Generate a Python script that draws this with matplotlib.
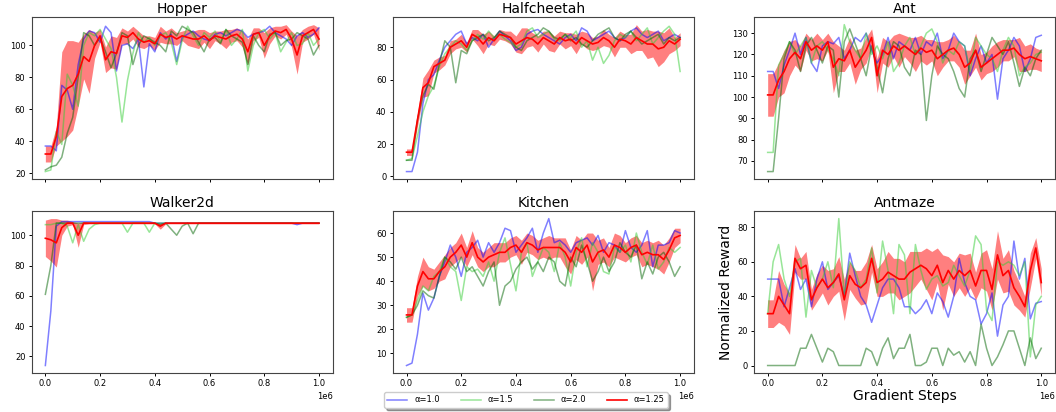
import numpy as np
import matplotlib.pyplot as plt

# passos de treino (0 a 1e6)
steps = np.arange(0, 1000001, 20000)

titles = ["Hopper", "Halfcheetah", "Ant", "Walker2d", "Kitchen", "Antmaze"]
labels = ["α=1.0", "α=1.5", "α=2.0", "α=1.25"]

# hopper
hopper_a10 = [37, 37, 34, 75, 72, 60, 88, 104, 109, 108, 102, 112, 108, 84, 100, 101, 98, 104, 74, 101,
              96, 108, 104, 107, 90, 105, 107, 109, 106, 104, 103, 107, 108, 106, 108, 110, 109, 105, 107, 108,
              109, 112, 108, 106, 104, 100, 106, 108, 105, 107, 111]
hopper_a15 = [21, 22, 46, 38, 82, 75, 62, 100, 108, 106, 110, 104, 98, 80, 52, 78, 95, 108, 102, 105,
              100, 106, 108, 102, 88, 103, 112, 106, 100, 108, 105, 109, 102, 110, 100, 104, 110, 84, 100, 108,
              110, 104, 108, 96, 102, 108, 100, 101, 108, 100, 104]
hopper_a20 = [22, 24, 25, 30, 45, 55, 80, 108, 106, 100, 105, 96, 86, 95, 108, 106, 88, 100, 106, 104,
              102, 100, 96, 109, 106, 112, 110, 108, 102, 96, 104, 105, 101, 110, 106, 104, 102, 88, 106, 100,
              96, 107, 108, 100, 103, 104, 108, 106, 104, 94, 100]
hopper_a125 = [32, 32, 43, 68, 73, 75, 82, 93, 90, 100, 106, 91, 96, 95, 106, 105, 108, 104, 102, 103,
               101, 107, 105, 106, 104, 106, 105, 104, 104, 106, 103, 106, 105, 104, 106, 107, 104, 96, 107, 108,
               100, 106, 109, 108, 110, 104, 94, 106, 108, 110, 104]
hopper_std = [5, 5, 6, 28, 30, 28, 20, 14, 20, 8, 4, 8, 10, 10, 5, 4, 4, 5, 4, 3,
              4, 5, 4, 5, 4, 3, 5, 5, 6, 4, 5, 3, 4, 6, 4, 4, 5, 8, 4, 3,
              8, 5, 3, 4, 3, 5, 12, 4, 4, 3, 7]

# halfcheetah
cheetah_a10 = [3, 3, 15, 45, 60, 63, 72, 80, 84, 88, 90, 82, 86, 84, 88, 80, 85, 90, 87, 84,
               78, 80, 88, 90, 91, 88, 86, 84, 82, 86, 88, 84, 92, 90, 84, 86, 88, 90, 86, 84,
               86, 90, 92, 88, 86, 88, 90, 84, 86, 88, 86]
cheetah_a15 = [10, 11, 25, 40, 50, 56, 68, 76, 80, 84, 82, 78, 84, 88, 85, 90, 86, 88, 85, 83,
               80, 82, 90, 92, 86, 88, 90, 85, 84, 88, 86, 90, 80, 84, 72, 80, 70, 75, 84, 88,
               86, 90, 84, 88, 92, 82, 86, 90, 93, 88, 65]
cheetah_a20 = [10, 10, 35, 50, 57, 54, 70, 84, 80, 58, 78, 76, 84, 86, 88, 84, 86, 90, 88, 86,
               80, 78, 84, 86, 88, 92, 90, 86, 85, 88, 84, 86, 82, 80, 84, 88, 90, 92, 86, 84,
               88, 90, 86, 82, 84, 86, 88, 82, 86, 84, 86]
cheetah_a125 = [15, 15, 35, 55, 58, 68, 70, 72, 80, 82, 84, 80, 88, 86, 82, 86, 84, 88, 87, 86,
                82, 84, 86, 85, 82, 86, 84, 82, 86, 84, 85, 82, 86, 84, 82, 83, 86, 84, 80, 85,
                84, 82, 86, 84, 82, 82, 79, 80, 84, 82, 85]
cheetah_std = [2, 2, 4, 6, 8, 4, 4, 3, 4, 3, 4, 3, 3, 5, 6, 4, 3, 3, 3, 4,
               5, 8, 6, 4, 5, 4, 6, 5, 4, 5, 4, 6, 4, 5, 4, 4, 5, 4, 6, 5,
               4, 6, 8, 6, 9, 8, 11, 9, 8, 4, 4]

# ant
ant_a10 = [112, 112, 104, 115, 122, 130, 120, 128, 116, 112, 124, 126, 125, 128, 118, 122, 128, 126, 130, 122,
           116, 120, 128, 118, 126, 124, 122, 128, 120, 126, 124, 130, 118, 122, 130, 126, 124, 110, 118, 124,
           116, 120, 99, 118, 122, 128, 124, 112, 118, 128, 129]
ant_a15 = [74, 74, 115, 120, 126, 120, 124, 128, 116, 124, 126, 122, 118, 110, 134, 126, 122, 118, 130, 120,
           124, 118, 126, 112, 116, 124, 128, 120, 124, 130, 132, 126, 116, 122, 120, 126, 124, 112, 128, 124,
           120, 118, 112, 122, 128, 124, 110, 114, 116, 120, 121]
ant_a20 = [65, 65, 90, 118, 126, 122, 112, 124, 128, 122, 116, 124, 122, 100, 126, 132, 125, 118, 110, 124,
           114, 102, 118, 126, 124, 114, 110, 122, 120, 89, 110, 124, 120, 118, 112, 104, 100, 118, 122, 112,
           120, 128, 124, 120, 126, 116, 105, 114, 110, 118, 122]
ant_a125 = [101, 101, 108, 112, 118, 121, 118, 126, 122, 124, 122, 126, 114, 118, 117, 122, 114, 118, 122, 128,
            110, 122, 120, 124, 122, 124, 122, 120, 123, 121, 122, 118, 120, 122, 123, 120, 114, 116, 122, 114,
            116, 118, 120, 122, 122, 123, 120, 118, 119, 118, 117]
ant_std = [10, 10, 8, 10, 8, 6, 6, 4, 5, 6, 5, 4, 12, 6, 5, 6, 8, 5, 6, 4,
           8, 6, 6, 5, 8, 5, 6, 8, 6, 6, 5, 8, 6, 5, 6, 6, 8, 6, 8, 6,
           5, 6, 6, 5, 5, 4, 8, 6, 6, 5, 5]

# walker2d
walker_a10 = [14, 50, 106, 109, 109, 109, 109, 109, 109, 109, 109, 109, 109, 109, 109, 109, 109, 109, 109, 109,
              108, 108, 108, 108, 108, 108, 108, 108, 108, 108, 108, 108, 108, 108, 108, 108, 108, 108, 108, 108,
              108, 108, 108, 108, 108, 108, 107, 108, 108, 108, 108]
walker_a15 = [107, 107, 108, 108, 106, 95, 107, 96, 104, 107, 108, 108, 108, 108, 108, 102, 108, 108, 108, 102,
              108, 108, 108, 108, 108, 108, 108, 108, 108, 108, 108, 108, 108, 108, 108, 108, 108, 108, 108, 108,
              108, 108, 108, 108, 108, 108, 108, 108, 108, 108, 108]
walker_a20 = [61, 80, 108, 108, 108, 108, 108, 108, 108, 108, 108, 108, 108, 108, 108, 108, 108, 108, 108, 108,
              108, 107, 108, 104, 100, 106, 108, 101, 108, 108, 108, 108, 108, 108, 108, 108, 108, 108, 108, 108,
              108, 108, 108, 108, 108, 108, 108, 108, 108, 108, 108]
walker_a125 = [98, 97, 95, 105, 108, 108, 100, 108, 108, 108, 108, 108, 108, 108, 108, 108, 108, 108, 108, 108,
               108, 106, 108, 108, 108, 108, 108, 108, 108, 108, 108, 108, 108, 108, 108, 108, 108, 108, 108, 108,
               108, 108, 108, 108, 108, 108, 108, 108, 108, 108, 108]
walker_std = [12, 14, 16, 5, 2, 1, 8, 1, 0.5, 0.5, 0.5, 0.5, 0.5, 0.5, 0.5, 0.5, 0.5, 0.5, 0.5, 0.5,
              0.5, 2, 0.5, 0.5, 0.5, 0.5, 0.5, 0.5, 0.5, 0.5, 0.5, 0.5, 0.5, 0.5, 0.5, 0.5, 0.5, 0.5, 0.5, 0.5,
              0.5, 0.5, 0.5, 0.5, 0.5, 0.5, 0.5, 0.5, 0.5, 0.5, 0.5]

# kitchen
kitchen_a10 = [5, 6, 18, 35, 28, 33, 42, 48, 55, 50, 42, 52, 54, 57, 50, 56, 52, 56, 62, 61,
               52, 55, 58, 62, 52, 60, 66, 56, 57, 55, 52, 56, 57, 58, 55, 59, 52, 56, 55, 52,
               61, 54, 52, 55, 61, 46, 55, 55, 56, 61, 60]
kitchen_a15 = [25, 26, 32, 38, 36, 42, 44, 50, 46, 44, 32, 46, 44, 45, 42, 48, 40, 52, 58, 47,
               36, 52, 56, 42, 48, 54, 52, 44, 56, 50, 38, 52, 58, 46, 56, 52, 44, 43, 54, 52,
               55, 48, 60, 52, 47, 55, 45, 48, 54, 52, 54]
kitchen_a20 = [25, 26, 30, 36, 34, 33, 42, 50, 48, 45, 50, 44, 46, 42, 38, 44, 48, 30, 38, 40,
               45, 48, 50, 45, 48, 44, 50, 48, 40, 38, 50, 46, 55, 48, 40, 44, 50, 44, 48, 56,
               52, 50, 55, 41, 48, 43, 50, 52, 48, 42, 46]
kitchen_a125 = [26, 26, 38, 44, 41, 41, 44, 46, 50, 52, 55, 50, 56, 50, 48, 50, 51, 52, 52, 54,
                55, 52, 56, 55, 53, 54, 54, 54, 54, 52, 48, 54, 52, 55, 48, 52, 53, 50, 55, 54,
                52, 54, 55, 51, 52, 51, 51, 49, 53, 58, 59]
kitchen_std = [3, 3, 4, 6, 5, 4, 4, 5, 4, 4, 5, 4, 5, 4, 4, 4, 5, 4, 4, 4,
               4, 5, 4, 4, 4, 4, 5, 4, 4, 6, 5, 5, 5, 5, 12, 5, 5, 4, 5, 5,
               4, 4, 4, 5, 5, 5, 6, 6, 5, 4, 3]

# antmaze
antmaze_a10 = [50, 50, 50, 34, 45, 56, 44, 50, 34, 50, 60, 44, 48, 52, 40, 65, 52, 40, 35, 25,
               35, 45, 50, 50, 45, 34, 34, 30, 33, 38, 30, 42, 37, 28, 40, 62, 48, 40, 38, 24,
               30, 42, 17, 35, 40, 72, 50, 62, 27, 36, 37]
antmaze_a15 = [30, 60, 70, 50, 40, 60, 62, 28, 55, 45, 50, 60, 45, 85, 40, 60, 55, 45, 50, 68,
               42, 72, 55, 30, 70, 64, 30, 70, 55, 44, 50, 52, 46, 48, 58, 52, 46, 55, 75, 70,
               32, 26, 60, 58, 60, 58, 52, 60, 5, 35, 40]
antmaze_a20 = [0, 0, 0, 0, 0, 0, 10, 10, 18, 10, 2, 10, 8, 0, 0, 0, 0, 0, 10, 8,
               0, 10, 16, 4, 10, 10, 18, 0, 0, 2, 10, 10, 0, 10, 6, 8, 2, 8, 0, 24,
               10, 0, 5, 12, 20, 20, 10, 0, 16, 4, 10]
antmaze_a125 = [30, 30, 40, 35, 30, 62, 56, 58, 38, 45, 50, 45, 48, 53, 38, 52, 47, 45, 48, 62,
                48, 50, 54, 52, 50, 50, 54, 56, 58, 56, 52, 58, 48, 55, 50, 55, 52, 55, 46, 55,
                55, 44, 64, 52, 55, 45, 40, 34, 55, 68, 48]
antmaze_std = [8, 8, 15, 12, 12, 8, 6, 8, 6, 8, 8, 10, 8, 10, 12, 8, 8, 10, 12, 8,
               8, 10, 12, 10, 12, 10, 12, 10, 8, 12, 14, 10, 16, 8, 10, 10, 12, 10, 8, 10,
               12, 12, 14, 10, 12, 10, 8, 6, 10, 6, 8]

dados = [
    (hopper_a10, hopper_a15, hopper_a20, hopper_a125, hopper_std),
    (cheetah_a10, cheetah_a15, cheetah_a20, cheetah_a125, cheetah_std),
    (ant_a10, ant_a15, ant_a20, ant_a125, ant_std),
    (walker_a10, walker_a15, walker_a20, walker_a125, walker_std),
    (kitchen_a10, kitchen_a15, kitchen_a20, kitchen_a125, kitchen_std),
    (antmaze_a10, antmaze_a15, antmaze_a20, antmaze_a125, antmaze_std),
]

fig, axes = plt.subplots(2, 3, sharex=True, figsize=(10.56, 4.12))
plt.subplots_adjust(left=0.03, right=0.999, top=0.958, bottom=0.095,
                    wspace=0.2, hspace=0.2)

for ax, titulo, (a10, a15, a20, a125, std) in zip(axes.flat, titles, dados):
    a125 = np.array(a125, dtype=float)
    std = np.array(std, dtype=float)

    ax.plot(steps, a10, color="b", alpha=0.5, linewidth=1.1, label=labels[0])
    ax.plot(steps, a15, color="limegreen", alpha=0.5, linewidth=1.1, label=labels[1])
    ax.plot(steps, a20, color="darkgreen", alpha=0.5, linewidth=1.1, label=labels[2])
    ax.plot(steps, a125, color="r", linewidth=1.2, label=labels[3])
    ax.fill_between(steps, a125 - std, a125 + std, color="r", alpha=0.5, linewidth=0)

    ax.set_title(titulo, fontsize=10, pad=3)
    ax.tick_params(labelsize=6, length=2.5, width=0.7, pad=2)
    ax.xaxis.get_offset_text().set_fontsize(6)
    for spine in ax.spines.values():
        spine.set_color("#444444")

axes[1, 2].set_ylabel("Normalized Reward", fontsize=10, labelpad=3)
axes[1, 2].set_xlabel("Gradient Steps", fontsize=10, labelpad=1)

handles, legend_labels = axes[0, 0].get_legend_handles_labels()
fig.legend(handles, legend_labels, loc="lower center", bbox_to_anchor=(0.498, 0.0),
           ncol=4, fontsize=6, shadow=True, handlelength=2.4, columnspacing=2.5)

plt.savefig("out.png", dpi=100)
plt.close()
